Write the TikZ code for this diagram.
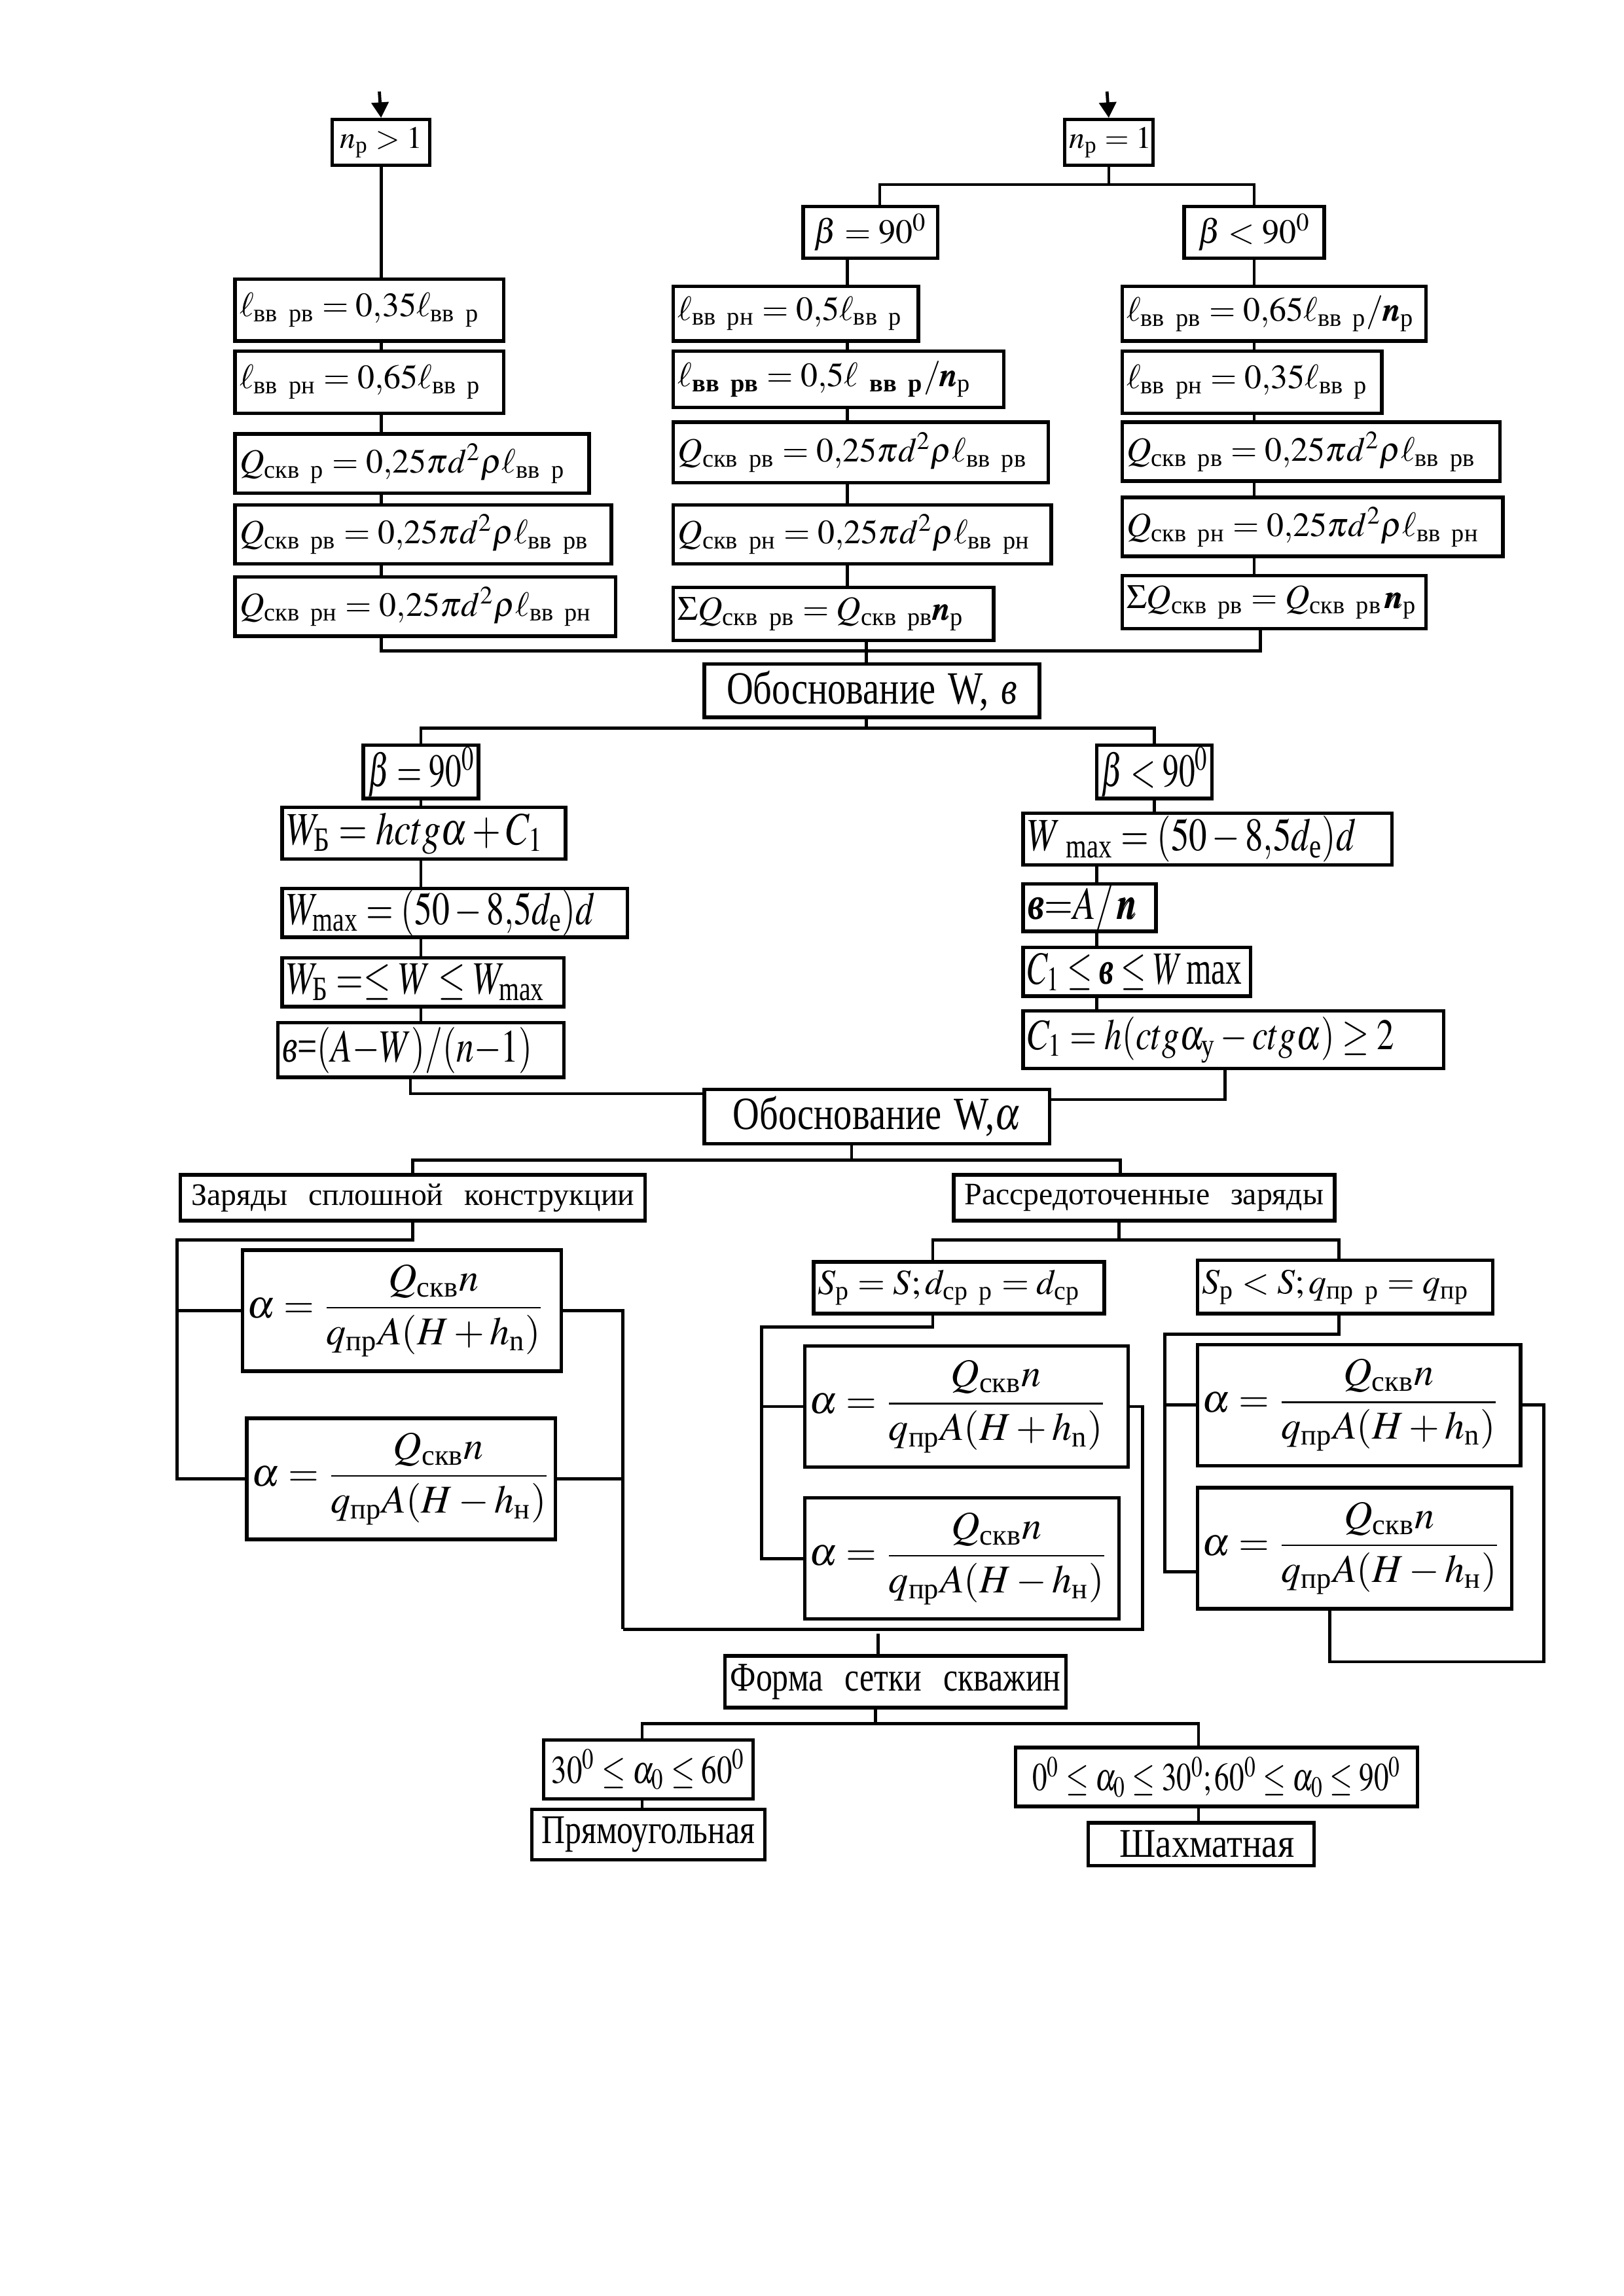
\documentclass[tikz,border=0pt]{standalone}
\usepackage{amsmath}
\usepackage{amssymb}
\usepackage{mathptmx}
\usepackage{graphicx}
\usepackage{fontspec}
\setmainfont{Liberation Serif}
\usetikzlibrary{arrows.meta,backgrounds,calc}

% condensed text
\newcommand{\nrw}[2][0.8]{\scalebox{#1}[1]{#2}}
% box from its corners: name, x1, y1, x2, y2, text
\newcommand{\bx}[7][]{%
  \pgfmathsetlengthmacro\bxw{(#5-#3)*0.19091mm-1.2mm}%
  \pgfmathsetlengthmacro\bxh{(#6-#4)*0.19091mm}%
  \node[box,#1,text width=\bxw,minimum height=\bxh] (#2) at (#3,{(#4+#6)/2}) {\mbox{#7}};}

\tikzset{
  box/.style={draw, line width=0.45mm, fill=white, anchor=west, inner xsep=0.6mm,
    inner ysep=0pt, align=left, font=\fontsize{12.5}{15}\selectfont},
  mid/.style={align=center},
  cond/.style={font=\fontsize{17}{20}\selectfont},
  frac/.style={font=\fontsize{14.5}{17}\selectfont},
  small/.style={font=\fontsize{11.5}{14}\selectfont},
  conn/.style={line width=0.4mm},
}

\begin{document}
\begin{tikzpicture}[x=0.19091mm, y=-0.19091mm]
\useasboundingbox (0,0) rectangle (1100,1555.7);

% n_p > 1
\bx[mid,small]{npg}{224}{81}{290}{112}{$n_{\text{р}} > 1$}
\bx{l1}{158}{189}{340}{231}{$\ell_{\text{вв рв}} = 0{,}35\ell_{\text{вв р}}$}
\bx{l2}{158}{238}{340}{280}{$\ell_{\text{вв рн}} = 0{,}65\ell_{\text{вв р}}$}
\bx{q1}{158}{294}{398}{334}{$Q_{\text{скв р}} = 0{,}25\pi d^2\rho\ell_{\text{вв р}}$}
\bx{q2}{158}{342}{413}{382}{$Q_{\text{скв рв}} = 0{,}25\pi d^2\rho\ell_{\text{вв рв}}$}
\bx{q3}{158}{391}{416}{431}{$Q_{\text{скв рн}} = 0{,}25\pi d^2\rho\ell_{\text{вв рн}}$}

% n_p = 1
\bx[mid,small]{npe}{720}{81}{780}{112}{$n_{\text{р}} = 1$}
\bx[mid]{ba}{543}{140}{634}{175}{$\beta = 90^{0}$}
\bx{m1}{455}{194}{621}{231}{$\ell_{\text{вв рн}} = 0{,}5\ell_{\text{вв р}}$}
\bx{m2}{455}{238}{679}{276}{$\ell_{\textbf{вв рв}} = 0{,}5\ell_{\textbf{ вв р}} / \pmb{n}_{\text{р}}$}
\bx{m3}{455}{286}{709}{327}{$Q_{\text{скв рв}} = 0{,}25\pi d^2\rho\ell_{\text{вв рв}}$}
\bx{m4}{455}{342}{711}{382}{$Q_{\text{скв рн}} = 0{,}25\pi d^2\rho\ell_{\text{вв рн}}$}
\bx{m5}{455}{398}{672}{434}{$\Sigma Q_{\text{скв рв}} = Q_{\text{скв рв}}\pmb{n}_{\text{р}}$}
\bx[mid]{bb}{801}{140}{896}{175}{$\beta < 90^{0}$}
\bx{r1}{759}{194}{965}{231}{$\ell_{\text{вв рв}} = 0{,}65\ell_{\text{вв р}} / \pmb{n}_{\text{р}}$}
\bx{r2}{759}{238}{935}{280}{$\ell_{\text{вв рн}} = 0{,}35\ell_{\text{вв р}}$}
\bx{r3}{759}{286}{1015}{326}{$Q_{\text{скв рв}} = 0{,}25\pi d^2\rho\ell_{\text{вв рв}}$}
\bx{r4}{759}{337}{1017}{377}{$Q_{\text{скв рн}} = 0{,}25\pi d^2\rho\ell_{\text{вв рн}}$}
\bx{r5}{759}{390}{965}{426}{$\Sigma Q_{\text{скв рв}} = Q_{\text{скв рв}}\,\pmb{n}_{\text{р}}$}

% W, в
\bx[mid,cond]{ow1}{476}{450}{703}{486}{\nrw{Обоснование W,\ \textit{в}}}
\bx[mid,cond]{bc}{245}{505}{323}{541}{\nrw[0.7]{$\beta = 90^{0}$}}
\bx[cond]{f1}{190}{547}{382}{582}{\nrw{$W_{\text{Б}} = hctg\alpha + C_1$}}
\bx[cond]{f2}{190}{602}{424}{635}{\nrw[0.76]{$W_{\text{max}} = (50 - 8{,}5d_{\text{е}})d$}}
\bx[cond]{f3}{190}{649}{381}{682}{\nrw[0.76]{$W_{\text{Б}} =\leq W \leq W_{\text{max}}$}}
\bx[cond]{f4}{187}{693}{381}{730}{\nrw[0.76]{\textit{в}=$(A{-}W)/(n{-}1)$}}
\bx[mid,cond]{bd}{742}{505}{820}{541}{\nrw[0.7]{$\beta < 90^{0}$}}
\bx[cond]{g1}{692}{551}{942}{586}{\nrw[0.78]{$W_{\ \text{max}} = (50 - 8{,}5d_{\text{е}})d$}}
\bx[cond]{g2}{692}{599}{782}{631}{\nrw{$\textbf{\textit{в}}{=}A/\,\pmb{n}$}}
\bx[cond]{g3}{692}{642}{846}{675}{\nrw[0.7]{$C_1 \leq \textbf{\textit{в}} \leq W\,\text{max}$}}
\bx[font=\fontsize{16}{18}\selectfont]{g4}{692}{685}{977}{724}{\nrw[0.8]{$C_1 = h(ctg\alpha_{\text{у}} - ctg\alpha) \geq 2$}}

% W, alpha
\bx[mid,cond]{ow2}{476}{738}{710}{775}{\nrw{Обоснование W,$\alpha$}}
\bx[mid,small]{z1}{121}{796}{436}{827}{Заряды\ \ сплошной\ \ конструкции}
\bx[mid,small]{z2}{645}{796}{903}{827}{Рассредоточенные\ \ заряды}
\bx[frac]{a1}{163}{847}{379}{929}{$\alpha = \dfrac{Q_{\text{скв}}n}{q_{\text{пр}}A(H + h_{\text{n}})}$}
\bx[frac]{a2}{166}{961}{375}{1043}{$\alpha = \dfrac{Q_{\text{скв}}n}{q_{\text{пр}}A(H - h_{\text{н}})}$}
\bx[font=\fontsize{13}{15}\selectfont]{sa}{550}{855}{747}{890}{$S_{\text{р}} = S; d_{\text{ср р}} = d_{\text{ср}}$}
\bx[frac]{b1}{544}{912}{763}{994}{$\alpha = \dfrac{Q_{\text{скв}}n}{q_{\text{пр}}A(H + h_{\text{n}})}$}
\bx[frac]{b2}{544}{1015}{757}{1097}{$\alpha = \dfrac{Q_{\text{скв}}n}{q_{\text{пр}}A(H - h_{\text{н}})}$}
\bx[font=\fontsize{13}{15}\selectfont]{sb}{810}{854}{1010}{890}{$S_{\text{р}} < S; q_{\text{пр р}} = q_{\text{пр}}$}
\bx[frac]{c1}{810}{911}{1029}{993}{$\alpha = \dfrac{Q_{\text{скв}}n}{q_{\text{пр}}A(H + h_{\text{n}})}$}
\bx[frac]{c2}{810}{1008}{1023}{1090}{$\alpha = \dfrac{Q_{\text{скв}}n}{q_{\text{пр}}A(H - h_{\text{н}})}$}

% grid
\bx[mid,font=\fontsize{15}{17}\selectfont]{forma}{490}{1122}{721}{1157}{\nrw{Форма\ \ сетки\ \ скважин}}
\bx[mid,font=\fontsize{14.5}{16}\selectfont]{p1}{367}{1179}{509}{1219}{\nrw[0.78]{$30^0 \leq \alpha_0 \leq 60^0$}}
\bx[mid,font=\fontsize{15}{17}\selectfont]{p2}{359}{1226}{517}{1260}{\nrw[0.8]{Прямоугольная}}
\bx[mid,font=\fontsize{14.5}{16}\selectfont]{k1}{687}{1184}{959}{1224}{\nrw[0.75]{$0^0 \leq \alpha_0 \leq 30^0;60^0 \leq \alpha_0 \leq 90^0$}}
\bx[mid,font=\fontsize{15}{17}\selectfont]{k2}{736}{1235}{889}{1264}{\nrw[0.88]{\ Шахматная}}

\begin{scope}[on background layer]
\begin{scope}[conn]
  % inputs
  \coordinate (inL) at (257,62);
  \coordinate (inR) at (750,62);
  \draw[-{Triangle[length=2mm,width=2.2mm]}] (inL) -- (npg.north);
  \draw[-{Triangle[length=2mm,width=2.2mm]}] (inR) -- (npe.north);
  % upper columns
  \coordinate (j1) at (854,441);
  \coordinate (jm) at (587,441);
  \coordinate (sp1) at (596,125);
  \coordinate (tm) at (574,200);
  \draw (npg.south) -- (npg.south |- j1) -- (j1) -- (j1 |- r5.south);
  \draw (jm |- m5.south) -- (jm |- ow1.north);
  \draw (npe.south) |- (sp1) -- (sp1 |- ba.north);
  \draw (npe.south) |- (bb.north |- sp1) -- (bb.north);
  \draw (tm |- ba.south) -- (tm |- m5.north);
  \draw (bb.south) -- (bb.south |- r5.north);
  % W, в
  \coordinate (sp2) at (587,493.5);
  \coordinate (jl) at (278,741);
  \coordinate (jr) at (830,745);
  \coordinate (tg) at (743,600);
  \draw (ow1.south -| sp2) -- (sp2);
  \draw (bc.north) |- (sp2) -| (bd.north);
  \draw (bc.south) -- (bc.south |- f4.north);
  \draw (jl |- f4.south) -- (jl) -- (jl -| ow2.west);
  \draw (bd.south) -- (bd.south |- g1.north);
  \draw (tg |- g1.south) -- (tg |- g4.north);
  \draw (jr |- g4.south) -- (jr) -- (jr -| ow2.east);
  % W, alpha
  \coordinate (sp3) at (577,786);
  \coordinate (z2t) at (759,786);
  \draw (ow2.south -| sp3) -- (sp3);
  \draw (z1.north) |- (z2t) -- (z2t |- z2.north);
  % solid charges
  \coordinate (ja) at (120,840);
  \coordinate (jb) at (422,1104);
  \coordinate (jc) at (774,1104);
  \draw (z1.south) |- (ja) -- (ja |- a2.west) -- (a2.west);
  \draw (ja |- a1.west) -- (a1.west);
  \draw (a1.east) -| (jb);
  \draw (a2.east) -- (a2.east -| jb);
  \draw (jb) -- (jc) |- (b1.east);
  % distributed charges
  \coordinate (sp4) at (758,840);
  \coordinate (s1t) at (632,840);
  \coordinate (s2t) at (907,840);
  \draw (z2.south -| sp4) -- (sp4);
  \draw (s1t |- sa.north) -- (s1t) -- (s2t) -- (s2t |- sb.north);
  \coordinate (jd) at (516,899);
  \draw (s1t |- sa.south) |- (jd) -- (jd |- b2.west) -- (b2.west);
  \draw (jd |- b1.west) -- (b1.west);
  \coordinate (je) at (789,904);
  \coordinate (c2w) at ($(c2.west)+(0,16)$);
  \draw (s2t |- sb.south) |- (je) -- (je |- c2w) -- (c2w);
  \draw (je |- c1.west) -- (c1.west);
  \coordinate (jf) at (1046,1126);
  \coordinate (jg) at (901,1126);
  \draw (c1.east) -| (jf) -- (jg) -- (jg |- c2.south);
  % grid
  \coordinate (ft) at (595,1107);
  \coordinate (sp5) at (593,1168);
  \coordinate (p1t) at (435,1168);
  \coordinate (k1t) at (812,1168);
  \draw (ft) -- (ft |- forma.north);
  \draw (forma.south -| sp5) -- (sp5);
  \draw (p1t |- p1.north) -- (p1t) -- (k1t) -- (k1t |- k1.north);
  \draw (p1t |- p1.south) -- (p1t |- p2.north);
  \draw (k1t |- k1.south) -- (k1t |- k2.north);
\end{scope}
\end{scope}
\end{tikzpicture}
\end{document}
